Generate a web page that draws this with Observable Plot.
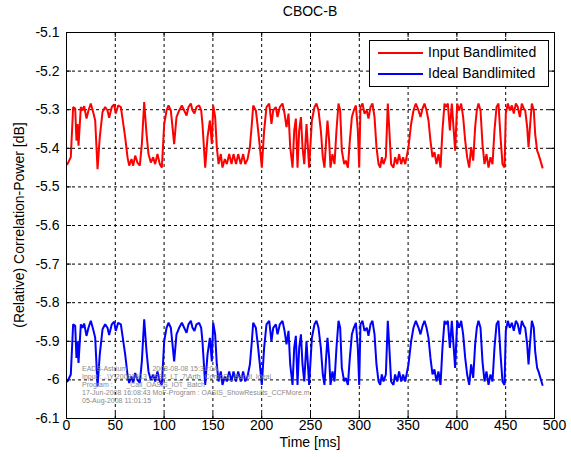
<!DOCTYPE html>
<html><head><meta charset="utf-8">
<script src="https://cdn.jsdelivr.net/npm/d3@7"></script>
<script src="https://cdn.jsdelivr.net/npm/@observablehq/plot@0.6"></script>
<style>
body{margin:0;background:#fff;}
#wrap{position:relative;width:571px;height:457px;font-family:"Liberation Sans",Arial,sans-serif;color:#000;overflow:hidden;}
#wrap svg{position:absolute;left:0;top:0;}
.abs{position:absolute;white-space:nowrap;}
#title{left:66px;width:488px;top:3px;text-align:center;font-size:14px;}
#xlabel{left:66px;width:488px;top:436px;text-align:center;font-size:14px;line-height:13px;}
#ylabel{left:19px;top:225px;font-size:14px;transform:translate(-50%,-50%) rotate(-90deg);}
#legend{left:369px;top:40px;width:180px;height:47px;border:1px solid #000;background:#fff;box-sizing:border-box;}
.li{position:absolute;left:8px;width:45px;height:2px;}
.lt{position:absolute;left:58px;font-size:14px;line-height:15px;}
#note{left:82px;top:365px;font-size:7px;line-height:8px;color:#8a8a8a;}
</style>
</head><body>
<div id="wrap">
  <div id="chart"></div>
  <div class="abs" id="title">CBOC-B</div>
  <div class="abs" id="xlabel">Time [ms]</div>
  <div class="abs" id="ylabel">(Relative) Correlation-Power [dB]</div>
  <div class="abs" id="note">EADS-Astrium &nbsp;&nbsp;&nbsp;&nbsp;&nbsp;&nbsp;&nbsp;&nbsp;&nbsp;&nbsp;&nbsp; 2008-08-08 15:31:0A<br>Input : ..\Y\20080613_2388_LT_7\Arth_CompSr_Bandl_Ideal<br>Program : &nbsp;&nbsp;&nbsp;&nbsp;&nbsp; _Call_OASIS_IOT_Batch<br>17-Jun-2008 16:08:43 MoF-Program : OASIS_ShowResults_CCFMore.m<br>05-Aug-2008 11:01:15</div>
  <div class="abs" id="legend">
    <div class="li" style="top:11px;background:#ff0000"></div>
    <div class="lt" style="top:4px">Input Bandlimited</div>
    <div class="li" style="top:32px;background:#0000ff"></div>
    <div class="lt" style="top:25px">Ideal Bandlimited</div>
  </div>
</div>
<script>
const seriesNames = ["Input Bandlimited", "Ideal Bandlimited"];
const xTicks = [0,50,100,150,200,250,300,350,400,450,500];
const yTicks = [-6.1,-6,-5.9,-5.8,-5.7,-5.6,-5.5,-5.4,-5.3,-5.2,-5.1];
const yTickLabels = ["-6.1","-6","-5.9","-5.8","-5.7","-5.6","-5.5","-5.4","-5.3","-5.2","-5.1"];

const time = [1.0,4.4,6.8,8.9,10.2,11.3,12.3,14.7,16.4,18.1,20.5,22.5,24.9,27.3,29.4,31.8,34.1,36.9,39.6,42.0,43.7,46.4,48.8,50.5,52.9,55.7,57.4,60.1,62.5,64.2,66.6,68.3,70.4,72.7,75.1,77.2,79.6,82.0,84.0,86.4,88.8,90.8,93.2,95.6,97.7,100.1,102.5,104.5,106.9,108.6,110.3,112.7,115.4,118.2,120.6,123.0,125.0,127.4,129.1,131.1,133.2,135.9,138.0,139.3,142.1,144.5,146.9,148.9,150.3,152.3,154.0,155.8,158.1,159.8,162.2,164.3,166.7,169.1,171.1,173.7,175.9,178.6,181.0,183.1,185.5,187.9,189.9,191.3,194.0,196.0,198.1,200.1,202.5,204.9,207.7,210.0,211.8,214.5,216.2,218.6,221.3,223.4,225.4,227.5,229.2,231.6,233.3,235.0,236.7,238.4,240.2,241.8,243.6,245.9,248.6,251.4,254.1,256.1,258.2,260.6,262.6,264.3,266.0,267.4,269.1,270.5,272.5,274.6,276.6,278.7,280.4,282.1,284.5,286.2,288.3,290.3,292.4,294.4,296.5,298.5,299.9,301.2,303.3,305.3,307.7,309.4,311.5,313.5,315.6,317.6,319.7,321.4,323.1,324.8,327.2,329.2,330.6,332.6,335.0,336.7,338.8,340.8,342.9,344.9,347.0,349.0,350.4,353.1,355.5,357.9,360.7,362.7,364.8,366.8,368.9,370.9,372.9,375.0,377.0,379.1,381.1,383.2,385.2,387.3,388.7,390.7,392.8,394.8,398.2,400.3,402.3,404.4,406.4,408.5,410.5,412.6,414.6,416.7,418.7,420.4,422.1,424.2,426.2,428.3,430.3,432.4,434.4,436.5,438.5,440.6,442.6,444.7,446.7,448.8,450.1,452.2,454.2,456.3,458.3,460.4,462.4,464.5,466.5,468.6,470.0,472.0,473.4,475.1,476.8,478.8,480.2,482.2,483.6,485.6,487.7];

const inputBandlimited = [-5.441,-5.423,-5.293,-5.297,-5.380,-5.337,-5.393,-5.293,-5.302,-5.291,-5.323,-5.302,-5.284,-5.306,-5.328,-5.454,-5.371,-5.306,-5.293,-5.302,-5.321,-5.293,-5.286,-5.310,-5.289,-5.293,-5.323,-5.371,-5.423,-5.445,-5.428,-5.445,-5.419,-5.437,-5.445,-5.389,-5.280,-5.363,-5.415,-5.437,-5.423,-5.441,-5.415,-5.441,-5.450,-5.337,-5.302,-5.289,-5.302,-5.345,-5.389,-5.319,-5.302,-5.289,-5.302,-5.315,-5.293,-5.284,-5.302,-5.310,-5.293,-5.289,-5.302,-5.337,-5.450,-5.371,-5.328,-5.389,-5.289,-5.319,-5.397,-5.441,-5.415,-5.450,-5.428,-5.441,-5.415,-5.441,-5.415,-5.441,-5.415,-5.441,-5.415,-5.441,-5.428,-5.397,-5.337,-5.289,-5.302,-5.345,-5.397,-5.450,-5.354,-5.293,-5.284,-5.337,-5.302,-5.293,-5.319,-5.293,-5.284,-5.310,-5.345,-5.310,-5.397,-5.450,-5.354,-5.323,-5.450,-5.354,-5.319,-5.397,-5.441,-5.337,-5.450,-5.328,-5.293,-5.284,-5.302,-5.354,-5.423,-5.450,-5.380,-5.328,-5.380,-5.450,-5.415,-5.441,-5.354,-5.284,-5.302,-5.406,-5.441,-5.432,-5.450,-5.380,-5.319,-5.302,-5.289,-5.354,-5.450,-5.293,-5.284,-5.310,-5.302,-5.323,-5.293,-5.284,-5.319,-5.397,-5.441,-5.450,-5.423,-5.441,-5.423,-5.284,-5.345,-5.441,-5.450,-5.423,-5.441,-5.415,-5.441,-5.423,-5.441,-5.415,-5.397,-5.337,-5.302,-5.284,-5.302,-5.319,-5.297,-5.284,-5.302,-5.328,-5.380,-5.423,-5.410,-5.441,-5.415,-5.450,-5.354,-5.284,-5.293,-5.284,-5.354,-5.284,-5.406,-5.284,-5.302,-5.284,-5.319,-5.380,-5.423,-5.450,-5.397,-5.432,-5.345,-5.302,-5.284,-5.302,-5.389,-5.441,-5.415,-5.450,-5.423,-5.441,-5.354,-5.293,-5.284,-5.371,-5.441,-5.450,-5.310,-5.284,-5.302,-5.289,-5.310,-5.284,-5.293,-5.319,-5.284,-5.297,-5.302,-5.345,-5.397,-5.337,-5.284,-5.302,-5.363,-5.406,-5.415,-5.432,-5.450];

const idealBandlimited = [-6.004,-5.986,-5.856,-5.860,-5.943,-5.900,-5.956,-5.856,-5.865,-5.854,-5.886,-5.865,-5.847,-5.869,-5.891,-6.017,-5.934,-5.869,-5.856,-5.865,-5.884,-5.856,-5.849,-5.873,-5.852,-5.856,-5.886,-5.934,-5.986,-6.008,-5.991,-6.008,-5.982,-6.000,-6.008,-5.952,-5.843,-5.926,-5.978,-6.000,-5.986,-6.004,-5.978,-6.004,-6.013,-5.900,-5.865,-5.852,-5.865,-5.908,-5.952,-5.882,-5.865,-5.852,-5.865,-5.878,-5.856,-5.847,-5.865,-5.873,-5.856,-5.852,-5.865,-5.900,-6.013,-5.934,-5.891,-5.952,-5.852,-5.882,-5.960,-6.004,-5.978,-6.013,-5.991,-6.004,-5.978,-6.004,-5.978,-6.004,-5.978,-6.004,-5.978,-6.004,-5.991,-5.960,-5.900,-5.852,-5.865,-5.908,-5.960,-6.013,-5.917,-5.856,-5.847,-5.900,-5.865,-5.856,-5.882,-5.856,-5.847,-5.873,-5.908,-5.873,-5.960,-6.013,-5.917,-5.886,-6.013,-5.917,-5.882,-5.960,-6.004,-5.900,-6.013,-5.891,-5.856,-5.847,-5.865,-5.917,-5.986,-6.013,-5.943,-5.891,-5.943,-6.013,-5.978,-6.004,-5.917,-5.847,-5.865,-5.969,-6.004,-5.995,-6.013,-5.943,-5.882,-5.865,-5.852,-5.917,-6.013,-5.856,-5.847,-5.873,-5.865,-5.886,-5.856,-5.847,-5.882,-5.960,-6.004,-6.013,-5.986,-6.004,-5.986,-5.847,-5.908,-6.004,-6.013,-5.986,-6.004,-5.978,-6.004,-5.986,-6.004,-5.978,-5.960,-5.900,-5.865,-5.847,-5.865,-5.882,-5.860,-5.847,-5.865,-5.891,-5.943,-5.986,-5.973,-6.004,-5.978,-6.013,-5.917,-5.847,-5.856,-5.847,-5.917,-5.847,-5.969,-5.847,-5.865,-5.847,-5.882,-5.943,-5.986,-6.013,-5.960,-5.995,-5.908,-5.865,-5.847,-5.865,-5.952,-6.004,-5.978,-6.013,-5.986,-6.004,-5.917,-5.856,-5.847,-5.934,-6.004,-6.013,-5.873,-5.847,-5.865,-5.852,-5.873,-5.847,-5.856,-5.882,-5.847,-5.860,-5.865,-5.908,-5.960,-5.900,-5.847,-5.865,-5.926,-5.969,-5.978,-5.995,-6.013];

const colors = ["#ff0000", "#0000ff"];

const data = [];
time.forEach((t, i) => {
  data.push({t, v: inputBandlimited[i], s: seriesNames[0]});
  data.push({t, v: idealBandlimited[i], s: seriesNames[1]});
});

const W = 571, H = 457, mL = 66, mR = 17, mT = 32, mB = 39;
const plotW = W - mL - mR, plotH = H - mT - mB, tick = 5;
const innerX = xTicks.slice(1, -1), innerY = yTicks.slice(1, -1);

const chart = Plot.plot({
  width: W, height: H,
  marginLeft: mL, marginRight: mR, marginTop: mT, marginBottom: mB,
  style: {fontFamily: "'Liberation Sans', Arial, sans-serif", fontSize: "14px", color: "#000", background: "transparent", overflow: "visible"},
  x: {domain: [0, 500]},
  y: {domain: [-6.1, -5.1]},
  color: {domain: seriesNames, range: colors},
  marks: [
    Plot.gridX(innerX, {stroke: "#000", strokeOpacity: 1, strokeDasharray: "3,3", strokeWidth: 1}),
    Plot.gridY(innerY, {stroke: "#000", strokeOpacity: 1, strokeDasharray: "3,3", strokeWidth: 1}),
    Plot.line(data, {x: "t", y: "v", z: "s", stroke: "s", strokeWidth: 2, strokeLinejoin: "miter"}),
    Plot.ruleX(xTicks, {x: d => d, insetTop: plotH - tick, stroke: "#000"}),
    Plot.ruleX(xTicks, {x: d => d, insetBottom: plotH - tick, stroke: "#000"}),
    Plot.ruleY(yTicks, {y: d => d, insetRight: plotW - tick, stroke: "#000"}),
    Plot.ruleY(yTicks, {y: d => d, insetLeft: plotW - tick, stroke: "#000"}),
    Plot.frame({stroke: "#000", strokeWidth: 1}),
    Plot.axisX({ticks: xTicks, tickSize: 0, tickPadding: 2, label: null, tickFormat: d => String(d)}),
    Plot.axisY({ticks: yTicks, tickSize: 0, tickPadding: 7, label: null, tickFormat: (d, i) => yTickLabels[yTicks.indexOf(d)] ?? String(d)})
  ]
});
document.getElementById("chart").appendChild(chart);
</script>
</body></html>
